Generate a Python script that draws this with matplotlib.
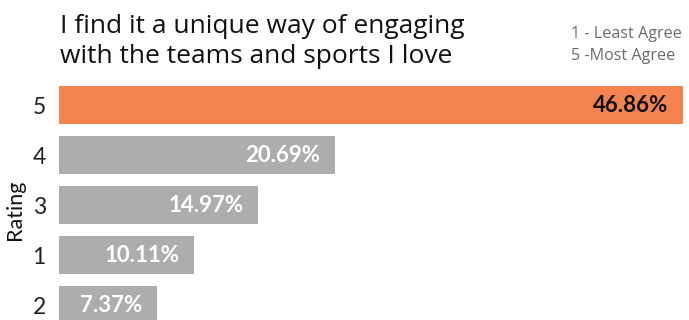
import matplotlib.pyplot as plt

# rating share, top to bottom as shown
ratings = ['5', '4', '3', '1', '2']
shares = [46.86, 20.69, 14.97, 10.11, 7.37]
highlight = '5'

title_lines = ['I find it a unique way of engaging', 'with the teams and sports I love']
key_lines = ['1 - Least Agree', '5 -Most Agree']

orange = '#F5834F'
grey = '#ADADAD'

W, H = 689, 320
fig = plt.figure(figsize=(W / 100, H / 100), dpi=100)
ax = fig.add_axes([59 / W, 0, 630 / W, 240 / H])

ypos = list(range(len(ratings)))
colors = [orange if r == highlight else grey for r in ratings]
ax.barh(ypos, shares, height=0.76, color=colors)

for y, v, r in zip(ypos, shares, ratings):
    ax.annotate('%.2f%%' % v, xy=(v, y), xytext=(-10.5, 0), textcoords='offset points',
                ha='right', va='center', fontsize=16, fontweight='bold',
                family='Lato', color='#111111' if r == highlight else 'white')

ax.set_xlim(0, 47.3)
ax.set_ylim(4.3, -0.5)
ax.set_yticks(ypos)
ax.set_yticklabels(ratings, fontsize=16.5, family='Lato', color='#222222')
ax.tick_params(axis='y', length=0, pad=9.5)
ax.set_xticks([])
ax.set_ylabel('Rating', fontsize=15.5, family='Lato', color='#111111')
ax.yaxis.set_label_coords(-0.054, 0.46)
for s in ax.spines.values():
    s.set_visible(False)

# heading, one baseline per line
for i, line in enumerate(title_lines):
    fig.text(60 / W, 1 - (33 + 30 * i) / H, line, ha='left', va='baseline',
             fontsize=19, family='Open Sans', color='#111111')

for i, line in enumerate(key_lines):
    fig.text(571 / W, 1 - (38 + 22 * i) / H, line, ha='left', va='baseline',
             fontsize=11.6, family='Open Sans', color='#6B6B6B')

fig.savefig('out.png', dpi=100)
